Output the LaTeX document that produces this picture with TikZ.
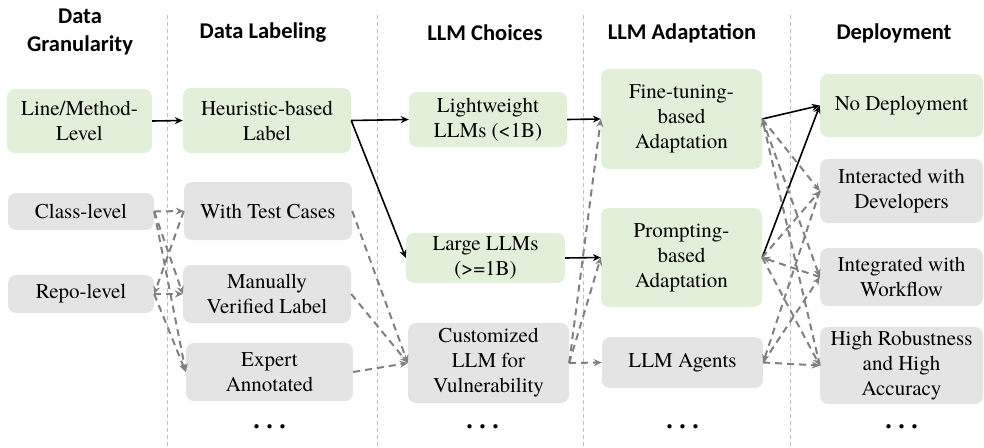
\documentclass[tikz,border=0pt]{standalone}
\usepackage{fontspec}
\setmainfont{TeX Gyre Termes}
\newfontfamily\boxfont{TeX Gyre Termes}
\newfontfamily\hdrfont{Carlito}
\usetikzlibrary{arrows.meta}
\definecolor{boxgreen}{HTML}{E2EFD9}
\definecolor{boxgray}{HTML}{E4E4E4}
\definecolor{arrgray}{HTML}{808080}
\definecolor{divgray}{HTML}{BFBFBF}
\begin{document}
\begin{tikzpicture}[x=1pt,y=-1pt,
  box/.style={rounded corners=8pt, draw=none, align=center, inner sep=0pt, font=\boxfont\fontsize{21}{25}\selectfont},
  gbox/.style={box, fill=boxgreen},
  ybox/.style={box, fill=boxgray},
  hdr/.style={font=\hdrfont\bfseries\fontsize{22.5}{28}\selectfont, align=center, inner sep=0pt},
  solidarr/.style={draw=black, line width=1.6pt, -{Stealth[length=8pt,width=7pt]}},
  dasharr/.style={draw=arrgray, line width=2pt, dash pattern=on 7pt off 5pt, -{Stealth[length=8pt,width=7pt]}},
  divider/.style={draw=divgray, line width=0.8pt, dash pattern=on 4pt off 3pt},
  dotsnode/.style={font=\boxfont\fontsize{39}{39}\selectfont, inner sep=0pt, anchor=base}
]
\useasboundingbox (0,0) rectangle (984,447);

% dividers
\draw[divider] (167,15) -- (167,447);
\draw[divider] (377,15) -- (377,447);
\draw[divider] (583,15) -- (583,447);
\draw[divider] (790,15) -- (790,447);

% headers
\node[hdr] (h1) at (80,32) {Data\\Granularity};
\node[hdr] (h2) at (263,33) {Data Labeling};
\node[hdr] (h3) at (485,33) {LLM Choices};
\node[hdr] (h4) at (682,33) {LLM Adaptation};
\node[hdr] (h5) at (894,33) {Deployment};

% column 1
\node[gbox, minimum width=145pt, minimum height=64pt] (lm) at (79.5,121) {Line/Method-\\Level};
\node[ybox, minimum width=146pt, minimum height=37pt] (cl) at (81,211.5) {Class-level};
\node[ybox, minimum width=146pt, minimum height=38pt] (rl) at (81,294) {Repo-level};

% column 2
\node[gbox, minimum width=168pt, minimum height=65pt] (hb) at (267,120.5) {Heuristic-based\\Label};
\node[ybox, minimum width=168pt, minimum height=58pt] (wt) at (268,211) {With Test Cases};
\node[ybox, minimum width=168pt, minimum height=58pt] (mv) at (267,294) {Manually\\Verified Label};
\node[ybox, minimum width=167pt, minimum height=58pt] (ea) at (269.5,372) {Expert\\Annotated};
\node[dotsnode] (d1) at (270,428) {…};

% column 3
\node[gbox, minimum width=158pt, minimum height=55pt] (lw) at (488,119.5) {Lightweight\\LLMs (<1B)};
\node[gbox, minimum width=159pt, minimum height=50pt] (ll) at (485.5,258) {Large LLMs\\(>=1B)};
\node[ybox, minimum width=161pt, minimum height=80pt] (cu) at (488.5,363) {Customized\\LLM for\\Vulnerability};
\node[dotsnode] (d2) at (483,428) {…};

% column 4
\node[gbox, minimum width=161pt, minimum height=100pt] (ft) at (681.5,119) {Fine-tuning-\\based\\Adaptation};
\node[gbox, minimum width=161pt, minimum height=99pt] (pr) at (681.5,257.5) {Prompting-\\based\\Adaptation};
\node[ybox, minimum width=161pt, minimum height=51pt] (ag) at (682.5,362.5) {LLM Agents};
\node[dotsnode] (d3) at (683,428) {…};

% column 5
\node[gbox, minimum width=163pt, minimum height=63pt] (nd) at (901.5,105.5) {No Deployment};
\node[ybox, minimum width=163pt, minimum height=64pt] (id) at (901.5,191) {Interacted with\\Developers};
\node[ybox, minimum width=163pt, minimum height=58pt] (iw) at (901.5,277) {Integrated with\\Workflow};
\node[ybox, minimum width=163pt, minimum height=77pt] (hr) at (901.5,365.5) {High Robustness\\and High\\Accuracy};
\node[dotsnode] (d4) at (902,428) {…};

% col1 -> col2
\draw[solidarr] (lm.east) -- (hb.west);
\draw[dasharr] (cl.east) -- (wt.west);
\draw[dasharr] (cl.east) -- (mv.west);
\draw[dasharr] (cl.east) -- (ea.west);
\draw[dasharr] (wt.west) -- (rl.east);
\draw[dasharr] (rl.east) -- (mv.west);
\draw[dasharr] (rl.east) -- (ea.west);

% col2 -> col3
\draw[solidarr] (hb.east) -- (lw.west);
\draw[solidarr] (hb.east) -- (ll.west);
\draw[dasharr] (wt.east) -- (cu.west);
\draw[dasharr] (mv.east) -- (cu.west);
\draw[dasharr] (ea.east) -- (cu.west);

% col3 -> col4
\draw[solidarr] (lw.east) -- (ft.west);
\draw[solidarr] (ll.east) -- (pr.west);
\draw[dasharr] (cu.east) -- (ft.west);
\draw[dasharr] (cu.east) -- (pr.west);
\draw[dasharr] (cu.east) -- (ag.west);

% col4 -> col5
\draw[solidarr] (ft.east) -- (nd.west);
\draw[solidarr] (pr.east) -- (nd.west);
\draw[dasharr] (ft.east) -- (id.west);
\draw[dasharr] (ft.east) -- (iw.west);
\draw[dasharr] (hr.west) -- (ft.east);
\draw[dasharr] (pr.east) -- (id.west);
\draw[dasharr] (iw.west) -- (pr.east);
\draw[dasharr] (pr.east) -- (hr.west);
\draw[dasharr] (ag.east) -- (iw.west);
\draw[dasharr] (id.west) -- (ag.east);
\draw[dasharr] (ag.east) -- (hr.west);
\end{tikzpicture}
\end{document}
